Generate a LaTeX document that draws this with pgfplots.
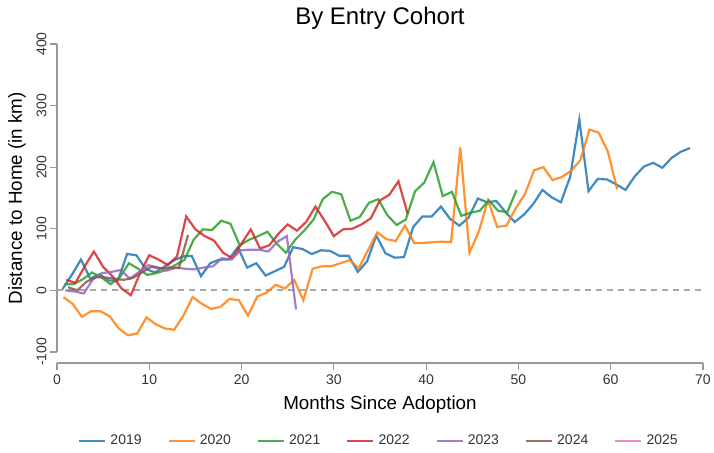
\documentclass[border=0pt]{standalone}
\usepackage{pgfplots}
\pgfplotsset{compat=1.18}
\usepackage{fontspec}
\setmainfont{Liberation Sans}

\definecolor{c2019}{HTML}{1F77B4}
\definecolor{c2020}{HTML}{FF7F0E}
\definecolor{c2021}{HTML}{2CA02C}
\definecolor{c2022}{HTML}{D62728}
\definecolor{c2023}{HTML}{9467BD}
\definecolor{c2024}{HTML}{8C564B}
\definecolor{c2025}{HTML}{E377C2}
\definecolor{axgray}{HTML}{999999}

\begin{document}
\begin{tikzpicture}
\useasboundingbox (-28.5pt,-44.5pt) rectangle (328.5pt,181.5pt);
\begin{axis}[
  scale only axis,
  width=323pt, height=162.6pt,
  xmin=0, xmax=70, ymin=-118, ymax=410,
  axis x line*=bottom, axis y line*=left,
  axis line style={-, axgray, line width=0.6pt},
  y axis line style={draw=none},
  xtick={0,10,...,70}, ytick={-100,0,100,200,300,400},
  tick align=outside, major tick length=3.5pt,
  tick style={axgray, line width=0.6pt},
  /pgf/number format/assume math mode=true,
  ticklabel style={font=\fontsize{7}{8}\selectfont, text=black!80},
  yticklabel style={rotate=90, anchor=south, inner sep=1.5pt},
  xticklabel style={inner sep=2pt},
  title={By Entry Cohort},
  every axis title/.style={at={(axis description cs:0.5,1)}, anchor=center, yshift=9.9pt, font=\fontsize{12}{14}\selectfont},
  xlabel={Months Since Adoption},
  every axis x label/.style={at={(axis description cs:0.5,0)}, anchor=center, yshift=-21pt, font=\fontsize{9.4}{11}\selectfont},
  ylabel={Distance to Home (in km)},
  every axis y label/.style={at={(axis description cs:-0.0619,0.507)}, rotate=90, anchor=center, font=\fontsize{9.4}{11}\selectfont},
  legend columns=7,
  legend style={at={(axis description cs:0.5,0)}, anchor=center, yshift=-39pt, draw=none, fill=none,
    font=\fontsize{7}{8}\selectfont, text=black!80,
    /tikz/every even column/.append style={column sep=11pt}},
  legend image code/.code={\draw[#1] (0pt,0pt) -- (13pt,0pt);},
  every axis plot/.append style={line width=1.1pt, draw opacity=0.85},
  clip=false,
]
\addplot[forget plot, axgray!85, line width=1pt, dash pattern=on 3pt off 2.5pt, draw opacity=1] coordinates {(0,0)(70,0)};

\addplot[c2019] coordinates {
(0.6,2)(1.6,25)(2.6,50)(3.6,19)(4.6,26)(5.6,16)(6.6,16)(7.6,59)(8.6,57)(9.6,35)
(10.6,29)(11.6,38)(12.6,48)(13.6,55)(14.6,56)(15.6,23)(16.6,44)(17.6,50)(18.6,50)(19.6,70)
(20.6,37)(21.6,44)(22.6,24)(23.6,31)(24.6,38)(25.6,70)(26.6,67)(27.6,59)(28.6,65)(29.6,64)
(30.6,56)(31.6,56)(32.6,30)(33.6,47)(34.6,89)(35.6,60)(36.6,53)(37.6,54)(38.6,103)(39.6,120)
(40.6,120)(41.6,136)(42.6,116)(43.6,105)(44.6,118)(45.6,149)(46.6,143)(47.6,145)(48.6,127)(49.6,111)
(50.6,123)(51.6,140)(52.6,163)(53.6,151)(54.6,143)(55.6,184)(56.6,277)(57.6,161)(58.6,181)(59.6,180)
(60.6,172)(61.6,163)(62.6,185)(63.6,201)(64.6,207)(65.6,199)(66.6,215)(67.6,225)(68.6,231)
};
\addlegendentry{2019}

\addplot[c2020] coordinates {
(0.7,-11)(1.7,-22)(2.7,-43)(3.7,-34)(4.7,-34)(5.7,-42)(6.7,-62)(7.7,-73)(8.7,-70)(9.7,-44)
(10.7,-55)(11.7,-62)(12.7,-64)(13.7,-41)(14.7,-11)(15.7,-22)(16.7,-30)(17.7,-27)(18.7,-14)(19.7,-16)
(20.7,-41)(21.7,-10)(22.7,-4)(23.7,9)(24.7,3)(25.7,17)(26.7,-16)(27.7,35)(28.7,39)(29.7,39)
(30.7,44)(31.7,49)(32.7,36)(33.7,65)(34.7,94)(35.7,83)(36.7,80)(37.7,105)(38.7,77)(39.7,77)
(40.7,78)(41.7,79)(42.7,78)(43.7,232)(44.7,61)(45.7,95)(46.7,146)(47.7,103)(48.7,105)(49.7,133)
(50.7,156)(51.7,195)(52.7,200)(53.7,179)(54.7,184)(55.7,194)(56.7,211)(57.7,261)(58.7,256)(59.7,225)
(60.7,164)
};
\addlegendentry{2020}

\addplot[c2021] coordinates {
(0.8,10)(1.8,10)(2.8,18)(3.8,29)(4.8,21)(5.8,10)(6.8,21)(7.8,44)(8.8,35)(9.8,25)
(10.8,28)(11.8,33)(12.8,41)(13.8,49)(14.8,82)(15.8,99)(16.8,98)(17.8,113)(18.8,108)(19.8,73)
(20.8,82)(21.8,88)(22.8,95)(23.8,76)(24.8,61)(25.8,82)(26.8,97)(27.8,115)(28.8,148)(29.8,160)
(30.8,156)(31.8,113)(32.8,119)(33.8,142)(34.8,148)(35.8,122)(36.8,106)(37.8,115)(38.8,161)(39.8,175)
(40.8,208)(41.8,153)(42.8,160)(43.8,121)(44.8,126)(45.8,129)(46.8,146)(47.8,129)(48.8,127)(49.8,163)
};
\addlegendentry{2021}

\addplot[c2022] coordinates {
(1,17)(2,12)(3,39)(4,63)(5,38)(6,23)(7,3)(8,-8)(9,28)(10,57)
(11,50)(12,41)(13,55)(14,120)(15,99)(16,88)(17,81)(18,61)(19,52)(20,76)
(21,99)(22,68)(23,73)(24,92)(25,107)(26,97)(27,111)(28,136)(29,113)(30,88)
(31,99)(32,100)(33,107)(34,117)(35,146)(36,155)(37,177)(38,124)
};
\addlegendentry{2022}

\addplot[c2023] coordinates {
(0.9,0)(1.9,-2)(2.9,-5)(3.9,18)(4.9,28)(5.9,30)(6.9,33)(7.9,19)(8.9,30)(9.9,41)
(10.9,37)(11.9,32)(12.9,37)(13.9,35)(14.9,34)(15.9,37)(16.9,39)(17.9,52)(18.9,50)(19.9,65)
(20.9,66)(21.9,66)(22.9,63)(23.9,79)(24.9,88)(25.9,-31)
};
\addlegendentry{2023}

\addplot[c2024] coordinates {
(1.2,5)(2.2,0)(3.2,14)(4.2,21)(5.2,21)(6.2,19)(7.2,17)(8.2,20)(9.2,29)(10.2,38)
(11.2,36)(12.2,37)(13.2,36)(14.2,90)
};
\addlegendentry{2024}

\addlegendimage{c2025, line width=1.1pt, draw opacity=0.85}
\addlegendentry{2025}

\draw[axgray, line width=0.6pt] (axis cs:0,-100) -- (axis cs:0,400);
\end{axis}
\end{tikzpicture}
\end{document}
